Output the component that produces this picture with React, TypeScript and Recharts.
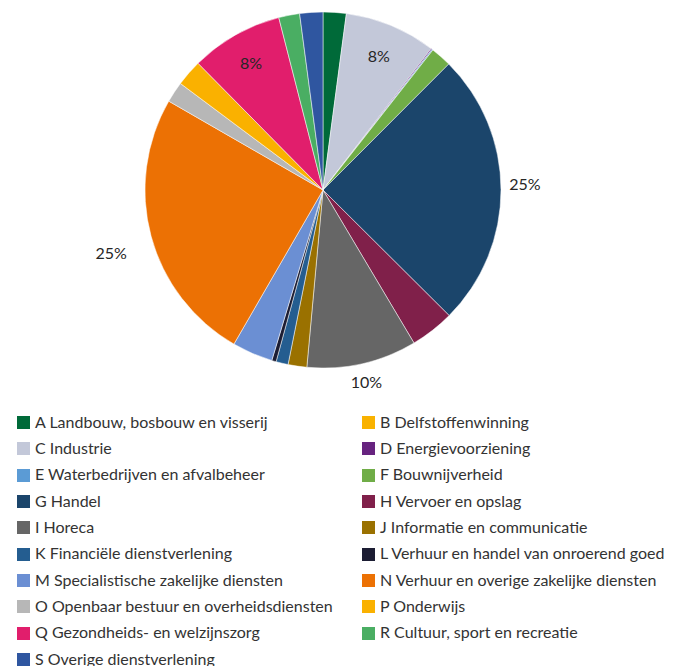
import React from "react";
import { PieChart, Pie, Cell, Legend } from "recharts";

const codes = ["A", "B", "C", "D", "E", "F", "G", "H", "I", "J", "K", "L", "M", "N", "O", "P", "Q", "R", "S"];
const sectors = [
  "Landbouw, bosbouw en visserij",
  "Delfstoffenwinning",
  "Industrie",
  "Energievoorziening",
  "Waterbedrijven en afvalbeheer",
  "Bouwnijverheid",
  "Handel",
  "Vervoer en opslag",
  "Horeca",
  "Informatie en communicatie",
  "Financiële dienstverlening",
  "Verhuur en handel van onroerend goed",
  "Specialistische zakelijke diensten",
  "Verhuur en overige zakelijke diensten",
  "Openbaar bestuur en overheidsdiensten",
  "Onderwijs",
  "Gezondheids- en welzijnszorg",
  "Cultuur, sport en recreatie",
  "Overige dienstverlening",
];
// share of jobs per sector, in %
const shares = [2.1, 0, 8.3, 0.1, 0.1, 1.9, 25, 4, 10, 1.7, 1.1, 0.4, 3.7, 25, 1.9, 2.4, 8.4, 1.9, 2.1];
const colors = [
  "#006a39", "#f9b200", "#c3c8d9", "#67237f", "#5b9bd5", "#70ad47", "#1b456b", "#80204a", "#666666",
  "#9a7100", "#245d90", "#1c1d33", "#6b8fd3", "#ec7104", "#b7b7b7", "#fab100", "#e11e6c", "#4aae63", "#2f56a0",
];

const data = codes.map((c, i) => ({ name: `${c} ${sectors[i]}`, code: c, value: shares[i], color: colors[i] }));

const FONT = "Lato, 'Open Sans', sans-serif";
const RAD = Math.PI / 180;
// small hand tweaks for labels that don't sit exactly on the mid angle: [extra radius, extra y]
const labelNudge: Record<string, [number, number]> = { G: [0, -6], N: [16, 6] };

function SliceLabel(props: any) {
  const { cx, cy, midAngle, outerRadius, percent, payload } = props;
  if (percent < 0.05) return null;
  const sin = Math.sin(-midAngle * RAD);
  const cos = Math.cos(-midAngle * RAD);
  const text = `${Math.round(percent * 100)}%`;
  const [dr, dy] = labelNudge[payload.code] ?? [0, 0];
  let r: number;
  if (percent < 0.09) {
    r = outerRadius * 0.82;
  } else {
    r = outerRadius + 8 + Math.abs(cos) * 16 + Math.abs(sin) * 7 + dr;
  }
  return (
    <text
      x={cx + r * cos}
      y={cy + r * sin + dy}
      textAnchor="middle"
      dominantBaseline="central"
      fill="#262626"
      fontSize={16}
      fontFamily={FONT}
    >
      {text}
    </text>
  );
}

function LegendGrid() {
  return (
    <div
      style={{
        display: "grid",
        gridTemplateColumns: "345px 320px",
        gridAutoRows: "26.33px",
        fontFamily: FONT,
        fontSize: 16,
        color: "#333333",
      }}
    >
      {data.map((d) => (
        <div key={d.code} style={{ display: "flex", alignItems: "center", paddingLeft: 17 }}>
          <span
            style={{
              width: 13,
              height: 13,
              background: d.color,
              marginRight: 5,
              marginTop: 3,
              flex: "none",
            }}
          />
          <span style={{ whiteSpace: "nowrap" }}>{d.name}</span>
        </div>
      ))}
    </div>
  );
}

export default function App() {
  return (
    <div style={{ margin: "-8px 0 0 -8px", width: 683, height: 666, background: "#fff" }}>
      <PieChart width={683} height={666} margin={{ top: 0, right: 0, bottom: 0, left: 0 }}>
        <Pie
          data={data}
          dataKey="value"
          nameKey="name"
          cx={323}
          cy={190}
          outerRadius={178}
          startAngle={90}
          endAngle={-270}
          stroke="#ffffff"
          strokeWidth={0.5}
          label={SliceLabel}
          labelLine={false}
          isAnimationActive={false}
        >
          {data.map((d) => (
            <Cell key={d.code} fill={d.color} />
          ))}
        </Pie>
        <Legend
          content={<LegendGrid />}
          wrapperStyle={{ left: 0, top: 408, width: 683 }}
        />
      </PieChart>
    </div>
  );
}
